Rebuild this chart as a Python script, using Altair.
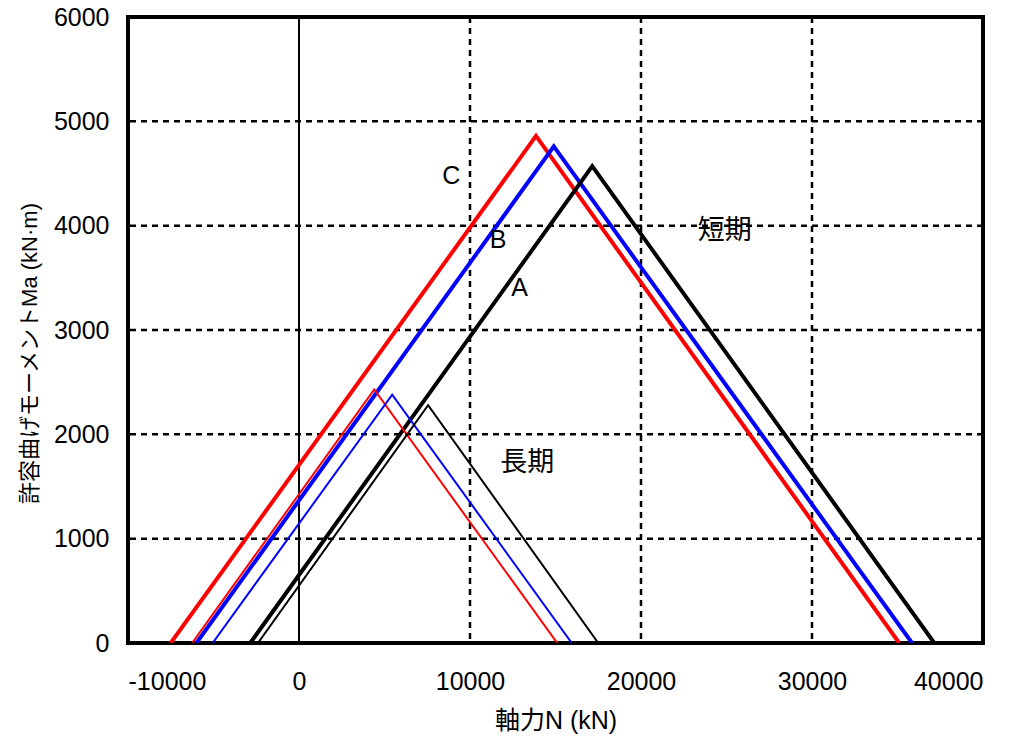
import altair as alt
import pandas as pd

# Interaction curves: (N, Ma) vertices for each series
series_names = ["C短期", "B短期", "A短期", "C長期", "B長期", "A長期"]
series_N = [
    [-7500, 13860, 35100],
    [-6000, 14900, 35850],
    [-2850, 17150, 37150],
    [-6250, 4400, 15100],
    [-5050, 5450, 15950],
    [-2400, 7550, 17500],
]
series_M = [
    [0, 4860, 0],
    [0, 4760, 0],
    [0, 4570, 0],
    [0, 2430, 0],
    [0, 2380, 0],
    [0, 2280, 0],
]
series_colors = ["#ff0000", "#0000ff", "#000000", "#ff0000", "#0000ff", "#000000"]
series_widths = [4, 4, 4, 2, 2, 2]

label_text = ["C", "B", "A"]
label_N = [8900, 11650, 12900]
label_M = [4480, 3860, 3400]
jlabel_text = ["短期", "長期"]
jlabel_N = [24900, 13350]
jlabel_M = [3950, 1730]

x_ticks = [-10000, 0, 10000, 20000, 30000, 40000]
y_ticks = [0, 1000, 2000, 3000, 4000, 5000, 6000]
x_grid = [10000, 20000, 30000]
y_grid = [1000, 2000, 3000, 4000, 5000]

rows = []
for name, ns, ms, w in zip(series_names, series_N, series_M, series_widths):
    for i, (n, m) in enumerate(zip(ns, ms)):
        rows.append({"series": name, "N": n, "M": m, "order": i, "w": w})
df = pd.DataFrame(rows)
labels = pd.DataFrame({"t": label_text, "N": label_N, "M": label_M})
jlabels = pd.DataFrame({"t": jlabel_text, "N": jlabel_N, "M": jlabel_M})

font = "Liberation Sans, Arial, sans-serif"
jfont = "Liberation Sans, Noto Sans CJK JP, sans-serif"

xs = alt.Scale(domain=[-10000, 40000], nice=False)
ys = alt.Scale(domain=[0, 6000], nice=False)

xax = alt.Axis(values=x_ticks, labelExpr="'' + datum.value", title="軸力N (kN)", grid=False,
               ticks=False, domain=False, labelFontSize=25, labelFont=font,
               labelColor="black", labelPadding=26, titleFontSize=25,
               titleFont=jfont, titleFontWeight="normal", titleColor="black",
               titlePadding=14)
yax = alt.Axis(values=y_ticks, labelExpr="'' + datum.value", title="許容曲げモーメントMa (kN·m)",
               grid=False, ticks=False, domain=False, labelFontSize=25, labelFont=font,
               labelColor="black", labelPadding=19, titleFontSize=22,
               titleFont=jfont, titleFontWeight="normal", titleColor="black",
               titlePadding=12, titleY=336)

xgrid = alt.Chart(pd.DataFrame({"N": x_grid})).mark_rule(
    color="black", strokeWidth=2.5, strokeDash=[6, 5]).encode(x=alt.X("N:Q", scale=xs, axis=xax))
ygrid = alt.Chart(pd.DataFrame({"M": y_grid})).mark_rule(
    color="black", strokeWidth=2.5, strokeDash=[6, 5]).encode(y=alt.Y("M:Q", scale=ys, axis=yax))

zero_line = alt.Chart(pd.DataFrame({"N": [0]})).mark_rule(color="black", strokeWidth=2).encode(
    x=alt.X("N:Q", scale=xs)
)

lines = alt.Chart(df).mark_line(clip=True).encode(
    x=alt.X("N:Q", scale=xs),
    y=alt.Y("M:Q", scale=ys),
    color=alt.Color("series:N", scale=alt.Scale(domain=series_names, range=series_colors), legend=None),
    strokeWidth=alt.StrokeWidth("w:Q", scale=None, legend=None),
    detail="series:N",
    order="order:Q",
)

texts = alt.Chart(labels).mark_text(fontSize=25, font=font, color="black").encode(
    x=alt.X("N:Q", scale=xs),
    y=alt.Y("M:Q", scale=ys),
    text="t:N",
)
jtexts = alt.Chart(jlabels).mark_text(fontSize=27, font=jfont, color="black").encode(
    x=alt.X("N:Q", scale=xs),
    y=alt.Y("M:Q", scale=ys),
    text="t:N",
)

chart = alt.layer(xgrid, ygrid, zero_line, lines, texts, jtexts).properties(
    width=855, height=626,
    autosize=alt.AutoSizeParams(type="none"),
    padding={"left": 120, "top": 9, "right": 30, "bottom": 96},
).configure_view(stroke="black", strokeWidth=4)

chart.save("out.html", embed_options={"renderer": "svg", "actions": False})
